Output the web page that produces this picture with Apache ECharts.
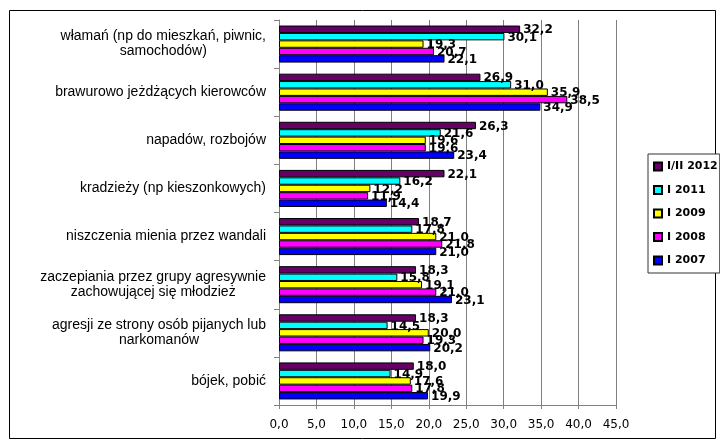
<!DOCTYPE html>
<html><head><meta charset="utf-8">
<script src="https://cdn.jsdelivr.net/npm/echarts@6/dist/echarts.min.js"></script>
<style>html,body{margin:0;padding:0;background:#fff}#c{width:720px;height:442px}</style>
</head><body><div id="c"></div>
<script>
const categories = [
  "włamań (np do mieszkań, piwnic,\nsamochodów)",
  "brawurowo jeżdżących kierowców",
  "napadów, rozbojów",
  "kradzieży (np kieszonkowych)",
  "niszczenia mienia przez wandali",
  "zaczepiania przez grupy agresywnie\nzachowującej się młodzież",
  "agresji ze strony osób pijanych lub\nnarkomanów",
  "bójek, pobić"
];
const seriesNames = ["I/II 2012", "I 2011", "I 2009", "I 2008", "I 2007"];
const v2012 = [32.2, 26.9, 26.3, 22.1, 18.7, 18.3, 18.3, 18.0];
const v2011 = [30.1, 31.0, 21.6, 16.2, 17.8, 15.8, 14.5, 14.9];
const v2009 = [19.3, 35.9, 19.6, 12.2, 21.0, 19.1, 20.0, 17.6];
const v2008 = [20.7, 38.5, 19.6, 11.9, 21.8, 21.0, 19.3, 17.8];
const v2007 = [22.1, 34.9, 23.4, 14.4, 21.0, 23.1, 20.2, 19.9];
const xTicks = [0, 5, 10, 15, 20, 25, 30, 35, 40, 45];
const colors = ["#660066", "#00FFFF", "#FFFF00", "#FF00FF", "#0000FF"];
const values = [v2012, v2011, v2009, v2008, v2007];

const chart = echarts.init(document.getElementById('c'), null, {renderer: 'canvas'});
const fmt = v => v.toFixed(1).replace('.', ',');
chart.setOption({
  animation: false,
  backgroundColor: '#fff',
  graphic: [{
    type: 'rect', left: 7, top: 8, z: -1,
    shape: {width: 706, height: 428},
    style: {fill: 'none', stroke: '#000', lineWidth: 1}
  }],
  grid: {left: 279, right: 104, top: 20, bottom: 37, containLabel: false},
  legend: {
    orient: 'vertical', left: 648, top: 154,
    data: seriesNames,
    itemWidth: 8, itemHeight: 8, itemGap: 12.5,
    padding: [7, 2, 7, 5],
    borderColor: '#333', borderWidth: 1, backgroundColor: '#fff',
    textStyle: {fontFamily: 'DejaVu Sans', fontWeight: 'bold', fontSize: 11, color: '#000'},
    icon: 'rect'
  },
  xAxis: {
    type: 'value', min: xTicks[0], max: xTicks[xTicks.length - 1], interval: 5,
    axisLine: {show: true, lineStyle: {color: '#808080', width: 1}},
    axisTick: {show: true, length: 4, lineStyle: {color: '#808080'}},
    splitLine: {show: true, lineStyle: {color: '#808080', width: 1}},
    axisLabel: {
      margin: 14, color: '#000', fontFamily: 'DejaVu Sans', fontSize: 12,
      formatter: v => v.toFixed(1).replace('.', ',')
    }
  },
  yAxis: {
    type: 'category', inverse: true, data: categories,
    axisLine: {show: true, lineStyle: {color: '#808080', width: 1}},
    axisTick: {show: true, length: 5, lineStyle: {color: '#808080'}},
    axisLabel: {
      margin: 13, color: '#000', fontFamily: 'Liberation Sans', fontSize: 14, lineHeight: 15,
      formatter: function (v) {
        if (v.indexOf('\n') < 0) return v;
        return v.split('\n').map(s => '{c|' + s + '}').join('\n');
      },
      rich: {c: {align: 'center', fontFamily: 'Liberation Sans', fontSize: 14, lineHeight: 15, color: '#000'}}
    }
  },
  series: seriesNames.map((n, i) => ({
    name: n, type: 'bar', data: values[i],
    barGap: '0%', barCategoryGap: '23%',
    itemStyle: {color: colors[i], borderColor: '#000', borderWidth: 1},
    label: {
      show: true, position: 'right', distance: 3, offset: [0, 1],
      fontFamily: 'DejaVu Sans', fontWeight: 'bold', fontSize: 12, color: '#000',
      formatter: p => fmt(p.value)
    }
  }))
});
</script></body></html>
